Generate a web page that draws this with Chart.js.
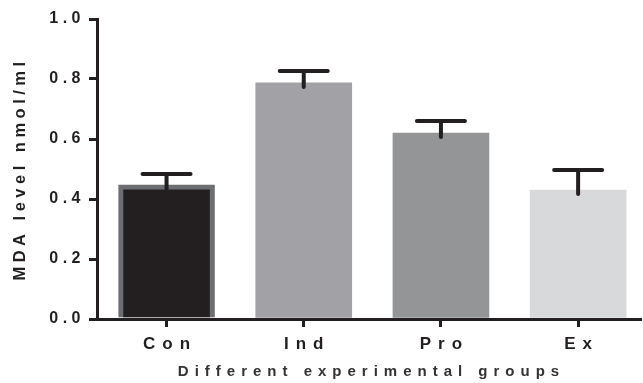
<!DOCTYPE html>
<html>
<head>
<meta charset="utf-8">
<script src="https://cdn.jsdelivr.net/npm/chart.js@4"></script>
<style>
  html, body { margin: 0; padding: 0; background: #fff; }
  #wrap { width: 643px; height: 383px; }
</style>
</head>
<body>
<div id="wrap"><canvas id="chart"></canvas></div>
<script>
// data
const groups = ['Con', 'Ind', 'Pro', 'Ex'];
const mdaMeans = [0.447, 0.787, 0.62, 0.43];
const mdaErrors = [0.036, 0.04, 0.04, 0.067];
const yTicks = [0, 0.2, 0.4, 0.6, 0.8, 1.0];
const yLabel = 'MDA level nmol/ml';
const xLabel = 'Different experimental groups';

const barFill = ['#231f20', '#a2a2a6', '#949597', '#d8d9da'];
const ink = '#231f20';

// error bars drawn on top of the bars
const errorBars = {
    id: 'errorBars',
    afterDatasetsDraw(chart) {
        const ctx = chart.ctx;
        const y = chart.scales.y;
        chart.getDatasetMeta(0).data.forEach((bar, i) => {
            const top = y.getPixelForValue(mdaMeans[i]);
            const cap = y.getPixelForValue(mdaMeans[i] + mdaErrors[i]);
            const half = bar.width / 4;
            ctx.save();
            ctx.strokeStyle = ink;
            ctx.lineWidth = 4;
            ctx.lineCap = 'round';
            ctx.beginPath();
            ctx.moveTo(bar.x, top + 4);
            ctx.lineTo(bar.x, cap);
            ctx.moveTo(bar.x - half, cap);
            ctx.lineTo(bar.x + half, cap);
            ctx.stroke();
            ctx.restore();
        });
    }
};

// wide letter spacing like the original figure; x labels drawn here
const spacedText = {
    id: 'spacedText',
    beforeDraw(chart) {
        chart.ctx.letterSpacing = '4.5px';
    },
    afterDraw(chart) {
        const ctx = chart.ctx;
        const x = chart.scales.x;
        ctx.save();
        ctx.fillStyle = ink;
        ctx.textAlign = 'center';
        ctx.textBaseline = 'middle';
        ctx.font = 'bold 17px "Liberation Sans", Arial, sans-serif';
        ctx.letterSpacing = '7px';
        groups.forEach((g, i) => {
            ctx.fillText(g, x.getPixelForValue(i) + 3.5, 344);
        });
        ctx.font = 'bold 15px "Liberation Sans", Arial, sans-serif';
        ctx.letterSpacing = '6px';
        ctx.fillStyle = '#333';
        const mid = (chart.chartArea.left + chart.chartArea.right) / 2;
        ctx.fillText(xLabel, mid + 3, 372);
        ctx.restore();
    }
};

new Chart(document.getElementById('chart'), {
    type: 'bar',
    data: {
        datasets: [{
            data: mdaMeans.map((v, i) => ({ x: i, y: v })),
            backgroundColor: barFill,
            borderColor: ['#6d6e71', 'transparent', 'transparent', 'transparent'],
            borderWidth: [5, 0, 0, 0],
            borderSkipped: 'start',
            barThickness: 96
        }]
    },
    options: {
        responsive: true,
        maintainAspectRatio: false,
        animation: false,
        layout: { padding: { top: 19, right: 3, left: 0, bottom: 0 } },
        plugins: {
            legend: { display: false },
            tooltip: { enabled: false }
        },
        scales: {
            x: {
                type: 'linear',
                min: -0.507,
                max: 3.451,
                offset: false,
                afterBuildTicks: (scale) => {
                    scale.ticks = groups.map((_, i) => ({ value: i }));
                },
                afterFit: (scale) => { scale.height = 64; },
                ticks: { display: false },
                grid: {
                    offset: false,
                    drawOnChartArea: false,
                    tickLength: 8,
                    lineWidth: 3,
                    color: ink
                },
                border: { color: ink, width: 3 }
            },
            y: {
                min: 0,
                max: 1,
                afterBuildTicks: (scale) => {
                    scale.ticks = yTicks.map(v => ({ value: v }));
                },
                afterFit: (scale) => { scale.width = 97; },
                ticks: {
                    padding: 4,
                    color: ink,
                    font: { family: '"Liberation Sans", Arial, sans-serif', size: 16, weight: 'bold' },
                    callback: (v) => Number(v).toFixed(1)
                },
                grid: {
                    drawOnChartArea: false,
                    tickLength: 8,
                    lineWidth: 3,
                    color: ink
                },
                border: { color: ink, width: 3 },
                title: {
                    display: true,
                    text: yLabel,
                    color: ink,
                    padding: { top: 11, bottom: 0 },
                    font: { family: '"Liberation Sans", Arial, sans-serif', size: 16.5, weight: 'bold' }
                }
            }
        }
    },
    plugins: [errorBars, spacedText]
});
</script>
</body>
</html>
